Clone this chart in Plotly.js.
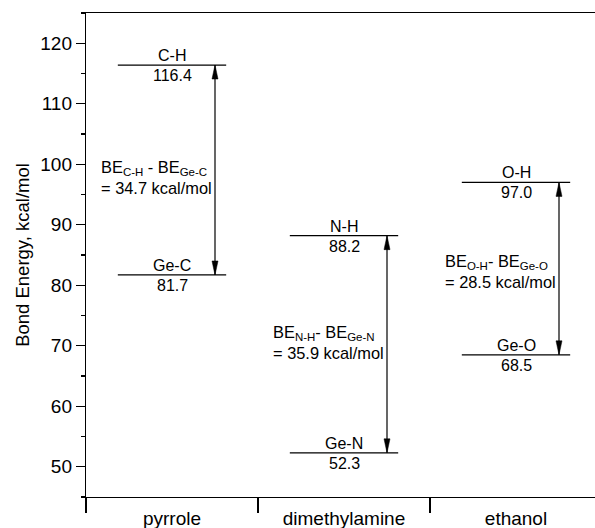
<!DOCTYPE html>
<html>
<head>
<meta charset="utf-8">
<script src="https://cdn.plot.ly/plotly-3.0.1.min.js"></script>
<style>html,body{margin:0;padding:0;background:#fff;overflow:hidden}</style>
</head>
<body>
<div id="chart" style="width:595px;height:528px"></div>
<script>
const categories = ['pyrrole', 'dimethylamine', 'ethanol'];
const upperBond = ['C-H', 'N-H', 'O-H'];
const upperBE = [116.4, 88.2, 97.0];
const lowerBond = ['Ge-C', 'Ge-N', 'Ge-O'];
const lowerBE = [81.7, 52.3, 68.5];
const diffBE = [34.7, 35.9, 28.5];
const diffLabel = ['BE<sub>C-H</sub> - BE<sub>Ge-C</sub>', 'BE<sub>N-H</sub>- BE<sub>Ge-N</sub>', 'BE<sub>O-H</sub>- BE<sub>Ge-O</sub>'];
const yTicks = [50, 60, 70, 80, 90, 100, 110, 120];

const FONT = 'Liberation Sans, Arial, Helvetica, sans-serif';
const HALF = 0.315;   // half-width of level lines (category units)
const ARROWX = 0.75;  // arrow offset within category
const DIFF_SHIFT = [-7, 2, -3]; // small vertical nudges (px) for the difference notes

const lx = [], ly = [];
categories.forEach((c, i) => {
  const ctr = i + 0.5;
  lx.push(ctr - HALF, ctr + HALF, null, ctr - HALF, ctr + HALF, null);
  ly.push(upperBE[i], upperBE[i], null, lowerBE[i], lowerBE[i], null);
});

const traces = [{
  x: lx, y: ly, type: 'scatter', mode: 'lines', xaxis: 'x2', yaxis: 'y',
  line: {color: '#000', width: 1.2}, hoverinfo: 'skip', showlegend: false,
  connectgaps: false
}];

const annotations = [];
const shapes = [];
categories.forEach((c, i) => {
  const ctr = i + 0.5;
  annotations.push({x: ctr, y: upperBE[i], xref: 'x', yref: 'y', text: upperBond[i], showarrow: false, yanchor: 'bottom', yshift: -1, font: {family: FONT, size: 16, color: '#000'}});
  annotations.push({x: ctr, y: upperBE[i], xref: 'x', yref: 'y', text: upperBE[i].toFixed(1), showarrow: false, yanchor: 'top', yshift: 0, font: {family: FONT, size: 16, color: '#000'}});
  annotations.push({x: ctr, y: lowerBE[i], xref: 'x', yref: 'y', text: lowerBond[i], showarrow: false, yanchor: 'bottom', yshift: -1, font: {family: FONT, size: 16, color: '#000'}});
  annotations.push({x: ctr, y: lowerBE[i], xref: 'x', yref: 'y', text: lowerBE[i].toFixed(1), showarrow: false, yanchor: 'top', yshift: 0, font: {family: FONT, size: 16, color: '#000'}});
  annotations.push({x: i + 0.075, y: (upperBE[i] + lowerBE[i]) / 2, xref: 'x', yref: 'y', xanchor: 'left', yanchor: 'middle', align: 'left',
    text: diffLabel[i] + '<br>= ' + diffBE[i].toFixed(1) + ' kcal/mol', showarrow: false, yshift: DIFF_SHIFT[i],
    font: {family: FONT, size: 16.4, color: '#000'}});
  const ax = i + ARROWX;
  shapes.push({type: 'line', xref: 'x', yref: 'y', x0: ax, x1: ax, y0: lowerBE[i], y1: upperBE[i], line: {color: '#000', width: 1.2}});
  shapes.push({type: 'path', xref: 'x', yref: 'y', xsizemode: 'pixel', ysizemode: 'pixel', xanchor: ax, yanchor: upperBE[i],
    path: 'M0,0 L-3,-14 L3,-14 Z', fillcolor: '#000', line: {color: '#000', width: 0.5}});
  shapes.push({type: 'path', xref: 'x', yref: 'y', xsizemode: 'pixel', ysizemode: 'pixel', xanchor: ax, yanchor: lowerBE[i],
    path: 'M0,0 L-3,14 L3,14 Z', fillcolor: '#000', line: {color: '#000', width: 0.5}});
});

const xr = [0, 509 / 172];
const layout = {
  width: 595, height: 528,
  margin: {l: 86, r: 0, t: 13, b: 31, pad: 0},
  paper_bgcolor: '#fff', plot_bgcolor: '#fff',
  font: {family: FONT, color: '#000'},
  showlegend: false,
  xaxis: {
    range: xr, tickvals: [0, 1, 2, 3], showticklabels: false,
    ticks: 'outside', ticklen: 15, tickwidth: 1.2, tickcolor: '#000',
    showline: true, mirror: true, linecolor: '#000', linewidth: 1.2,
    showgrid: false, zeroline: false, fixedrange: true
  },
  xaxis2: {
    overlaying: 'x', anchor: 'y', side: 'bottom', range: xr,
    tickvals: [0.5, 1.5, 2.5], ticktext: categories, ticks: '',
    showline: false, showgrid: false, zeroline: false,
    tickfont: {family: FONT, size: 19, color: '#000'}, ticklabelstandoff: 8
  },
  yaxis: {
    range: [45, 125], tickvals: yTicks, ticks: 'outside', ticklen: 9, tickwidth: 1.2, tickcolor: '#000',
    minor: {dtick: 5, tick0: 0, ticks: 'outside', ticklen: 4, tickwidth: 1.2, tickcolor: '#000', showgrid: false},
    showline: true, linecolor: '#000', linewidth: 1.2, showgrid: false, zeroline: false,
    tickfont: {family: FONT, size: 19, color: '#000'},
    title: {text: 'Bond Energy, kcal/mol', font: {family: FONT, size: 18.5, color: '#000'}, standoff: 5}
  },
  annotations: annotations,
  shapes: shapes
};

Plotly.newPlot('chart', traces, layout, {displayModeBar: false, staticPlot: true});
</script>
</body>
</html>
